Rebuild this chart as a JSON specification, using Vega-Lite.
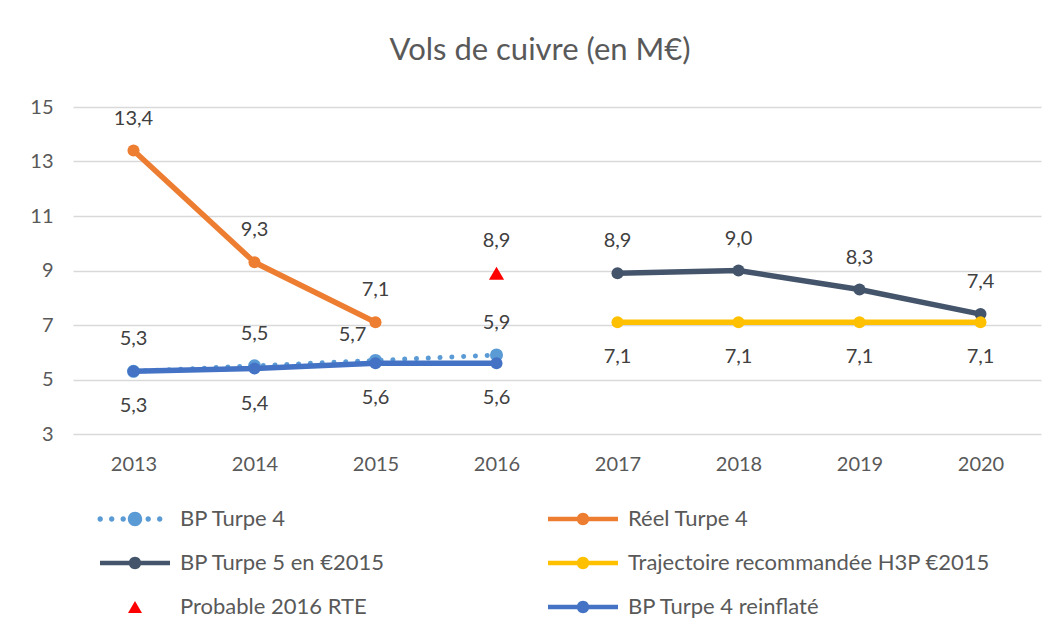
{
  "$schema": "https://vega.github.io/schema/vega-lite/v6.json",
  "width": 968,
  "height": 327,
  "autosize": {"type": "none"},
  "padding": {"left": 73, "top": 107, "right": 18, "bottom": 203},
  "background": "white",
  "title": {
    "text": "Vols de cuivre (en M€)",
    "font": "Lato",
    "fontSize": 31,
    "fontWeight": "normal",
    "color": "#595959",
    "anchor": "middle",
    "dx": -17,
    "offset": 30
  },
  "config": {
    "view": {"stroke": null},
    "font": "Lato",
    "locale": {
      "number": {"decimal": ",", "thousands": " ", "grouping": [3], "currency": ["", " €"]}
    }
  },
  "data": {
    "values": [
      {"annee": "2013", "serie": "BP Turpe 4", "valeur": 5.3},
      {"annee": "2014", "serie": "BP Turpe 4", "valeur": 5.5},
      {"annee": "2015", "serie": "BP Turpe 4", "valeur": 5.7},
      {"annee": "2016", "serie": "BP Turpe 4", "valeur": 5.9},
      {"annee": "2013", "serie": "Réel Turpe 4", "valeur": 13.4},
      {"annee": "2014", "serie": "Réel Turpe 4", "valeur": 9.3},
      {"annee": "2015", "serie": "Réel Turpe 4", "valeur": 7.1},
      {"annee": "2017", "serie": "BP Turpe 5 en €2015", "valeur": 8.9},
      {"annee": "2018", "serie": "BP Turpe 5 en €2015", "valeur": 9.0},
      {"annee": "2019", "serie": "BP Turpe 5 en €2015", "valeur": 8.3},
      {"annee": "2020", "serie": "BP Turpe 5 en €2015", "valeur": 7.4},
      {"annee": "2017", "serie": "Trajectoire recommandée H3P €2015", "valeur": 7.1},
      {"annee": "2018", "serie": "Trajectoire recommandée H3P €2015", "valeur": 7.1},
      {"annee": "2019", "serie": "Trajectoire recommandée H3P €2015", "valeur": 7.1},
      {"annee": "2020", "serie": "Trajectoire recommandée H3P €2015", "valeur": 7.1},
      {"annee": "2016", "serie": "Probable 2016 RTE", "valeur": 8.9},
      {"annee": "2013", "serie": "BP Turpe 4 reinflaté", "valeur": 5.3},
      {"annee": "2014", "serie": "BP Turpe 4 reinflaté", "valeur": 5.4},
      {"annee": "2015", "serie": "BP Turpe 4 reinflaté", "valeur": 5.6},
      {"annee": "2016", "serie": "BP Turpe 4 reinflaté", "valeur": 5.6}
    ]
  },
  "encoding": {
    "x": {
      "field": "annee",
      "type": "ordinal",
      "scale": {"domain": ["2013", "2014", "2015", "2016", "2017", "2018", "2019", "2020"], "paddingInner": 0, "paddingOuter": 0.5},
      "axis": {
        "title": null,
        "domain": false,
        "ticks": false,
        "labelAngle": 0,
        "labelFont": "Lato",
        "labelFontSize": 20,
        "labelColor": "#595959",
        "labelPadding": 20
      }
    },
    "y": {
      "field": "valeur",
      "type": "quantitative",
      "scale": {"domain": [3, 15], "nice": false, "zero": false},
      "axis": {
        "title": null,
        "values": [3, 5, 7, 9, 11, 13, 15],
        "domain": false,
        "ticks": false,
        "grid": true,
        "gridColor": "#D9D9D9",
        "gridWidth": 1.3,
        "labelFont": "Lato",
        "labelFontSize": 20,
        "labelColor": "#595959",
        "labelPadding": 20
      }
    }
  },
  "layer": [
    {
      "transform": [{"filter": "datum.serie === 'BP Turpe 4'"}],
      "mark": {"type": "line", "strokeWidth": 5, "strokeCap": "round", "strokeDash": [0.1, 11.7]},
      "encoding": {
        "color": {
          "field": "serie",
          "type": "nominal",
          "scale": {
            "domain": ["BP Turpe 4", "Réel Turpe 4", "BP Turpe 5 en €2015", "Trajectoire recommandée H3P €2015", "Probable 2016 RTE", "BP Turpe 4 reinflaté"],
            "range": ["#5B9BD5", "#ED7D31", "#44546A", "#FFC000", "#FF0000", "#4472C4"]
          },
          "legend": {
            "title": null,
            "orient": "none",
            "legendX": 51,
            "legendY": 401,
            "columns": 2,
            "direction": "horizontal",
            "padding": 0,
            "symbolSize": 400,
            "labelFont": "Lato",
            "labelFontSize": 22,
            "labelColor": "#595959",
            "labelOffset": 34,
            "labelLimit": 500,
            "rowPadding": 22,
            "columnPadding": 162,
            "symbolStrokeWidth": 0,
            "encode": {
              "symbols": {
                "update": {
                  "shape": {"signal": "datum.value === 'BP Turpe 4' ? 'M-3.75,0A0.27,0.27 0 1,1 -3.21,0A0.27,0.27 0 1,1 -3.75,0Z M-2.6,0A0.27,0.27 0 1,1 -2.06,0A0.27,0.27 0 1,1 -2.6,0Z M-1.45,0A0.27,0.27 0 1,1 -0.91,0A0.27,0.27 0 1,1 -1.45,0Z M-0.72,0A0.72,0.72 0 1,1 0.72,0A0.72,0.72 0 1,1 -0.72,0Z M1.05,0A0.27,0.27 0 1,1 1.59,0A0.27,0.27 0 1,1 1.05,0Z M2.2,0A0.27,0.27 0 1,1 2.74,0A0.27,0.27 0 1,1 2.2,0Z' : datum.value === 'Probable 2016 RTE' ? 'M0,-0.6L0.7,0.6L-0.7,0.6Z' : 'M-3.5,-0.22H3.5V0.22H-3.5Z M-0.62,0A0.62,0.62 0 1,1 0.62,0A0.62,0.62 0 1,1 -0.62,0Z'"},
                  "fill": {"signal": "scale('color', datum.value)"},
                  "fillOpacity": {"value": 1},
                  "opacity": {"value": 1},
                  "strokeWidth": {"value": 0}
                }
              }
            }
          }
        }
      }
    },
    {
      "transform": [{"filter": "datum.serie === 'BP Turpe 4'"}],
      "mark": {"type": "point", "filled": true, "opacity": 1, "size": 170, "shape": "circle"},
      "encoding": {"color": {"field": "serie", "type": "nominal"}}
    },
    {
      "transform": [{"filter": "datum.serie !== 'BP Turpe 4' && datum.serie !== 'Probable 2016 RTE'"}],
      "mark": {"type": "line", "strokeWidth": 5.5, "strokeCap": "round"},
      "encoding": {"color": {"field": "serie", "type": "nominal"}}
    },
    {
      "transform": [{"filter": "datum.serie !== 'BP Turpe 4' && datum.serie !== 'Probable 2016 RTE'"}],
      "mark": {"type": "point", "filled": true, "opacity": 1, "size": 145, "shape": "circle"},
      "encoding": {"color": {"field": "serie", "type": "nominal"}}
    },
    {
      "transform": [{"filter": "datum.serie === 'Probable 2016 RTE'"}],
      "mark": {"type": "point", "filled": true, "opacity": 1, "size": 230, "shape": "triangle-up"},
      "encoding": {"color": {"field": "serie", "type": "nominal"}}
    },
    {
      "transform": [
        {"filter": "(datum.serie === 'Réel Turpe 4' || datum.serie === 'BP Turpe 5 en €2015' || datum.serie === 'Probable 2016 RTE' || datum.serie === 'BP Turpe 4') && !(datum.serie === 'BP Turpe 4' && datum.annee === '2015')"}
      ],
      "mark": {"type": "text", "font": "Lato", "fontSize": 20, "color": "#404040", "baseline": "middle", "dy": -32},
      "encoding": {"text": {"field": "valeur", "type": "quantitative", "format": ".1f"}}
    },
    {
      "transform": [{"filter": "datum.serie === 'BP Turpe 4' && datum.annee === '2015'"}],
      "mark": {"type": "text", "font": "Lato", "fontSize": 20, "color": "#404040", "baseline": "middle", "dy": -25, "dx": -23},
      "encoding": {"text": {"field": "valeur", "type": "quantitative", "format": ".1f"}}
    },
    {
      "transform": [{"filter": "datum.serie === 'Trajectoire recommandée H3P €2015' || datum.serie === 'BP Turpe 4 reinflaté'"}],
      "mark": {"type": "text", "font": "Lato", "fontSize": 20, "color": "#404040", "baseline": "middle", "dy": 35},
      "encoding": {"text": {"field": "valeur", "type": "quantitative", "format": ".1f"}}
    }
  ]
}
